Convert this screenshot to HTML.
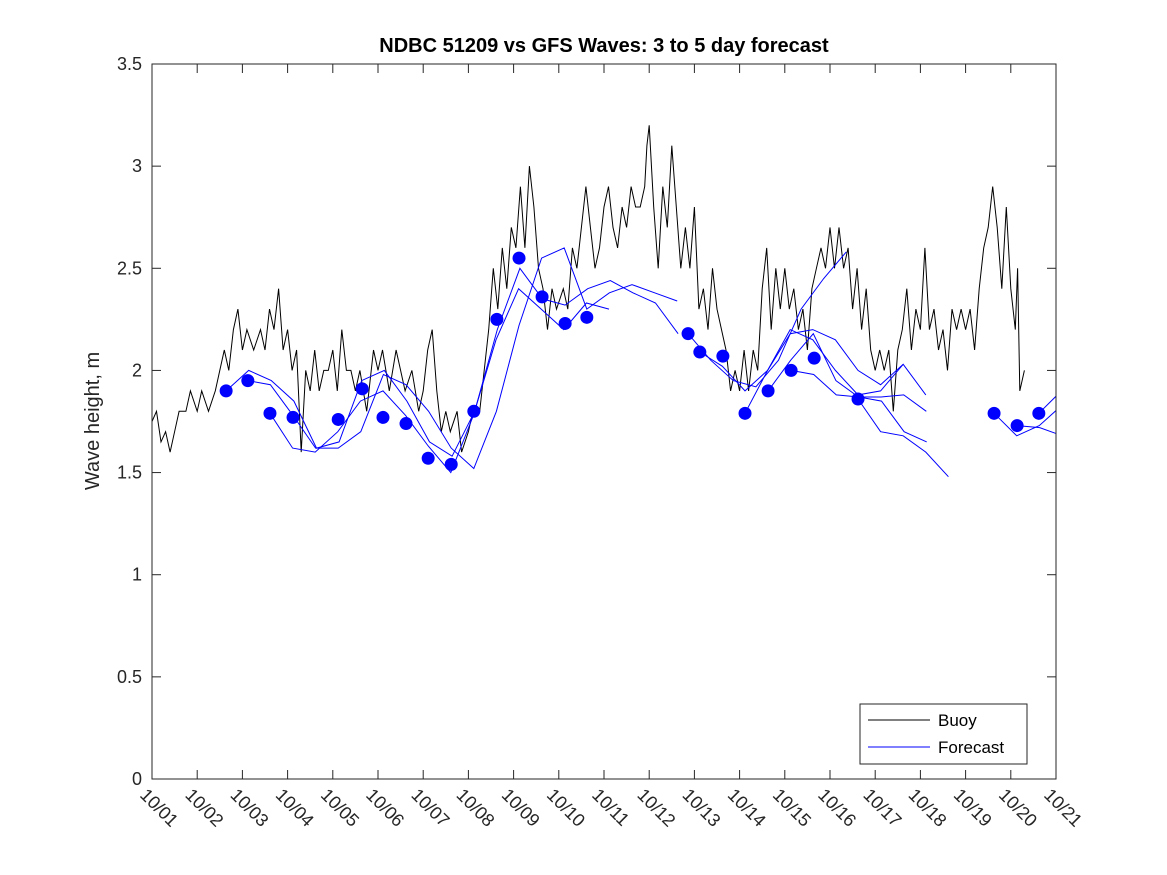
<!DOCTYPE html>
<html><head><meta charset="utf-8"><style>
html,body{margin:0;padding:0;background:#fff;}
svg{display:block;font-family:"Liberation Sans","DejaVu Sans",sans-serif;}
</style></head><body>
<svg id="chart" width="1167" height="875" viewBox="0 0 1167 875">
<defs><clipPath id="clipPlot"><rect x="152" y="64" width="904" height="715"/></clipPath></defs>
<rect x="0" y="0" width="1167" height="875" fill="#fff"/>
<text x="604" y="52" text-anchor="middle" font-size="20" font-weight="bold" fill="#000">NDBC 51209 vs GFS Waves: 3 to 5 day forecast</text>
<text transform="translate(99,421) rotate(-90)" text-anchor="middle" font-size="20" fill="#262626">Wave height, m</text>
<g id="plot" clip-path="url(#clipPlot)"></g>
<g id="axes"></g>
<g>
<rect x="860" y="704" width="167" height="60" fill="#fff" stroke="#262626" stroke-width="1"/>
<line x1="868" y1="720" x2="930" y2="720" stroke="#000" stroke-width="1"/>
<text x="938" y="726" font-size="17" fill="#000">Buoy</text>
<line x1="868" y1="747" x2="930" y2="747" stroke="#0000ff" stroke-width="1"/>
<text x="938" y="753" font-size="17" fill="#000">Forecast</text>
</g>
</svg>
<script>
const xTickLabels=["10/01","10/02","10/03","10/04","10/05","10/06","10/07","10/08","10/09","10/10","10/11","10/12","10/13","10/14","10/15","10/16","10/17","10/18","10/19","10/20","10/21"];
const yTicks=[0,0.5,1,1.5,2,2.5,3,3.5];
const yTickLabels=["0","0.5","1","1.5","2","2.5","3","3.5"];
const buoyDays=[0,0.1,0.2,0.3,0.4,0.5,0.6,0.75,0.85,1.0,1.1,1.25,1.4,1.5,1.6,1.7,1.8,1.9,2.0,2.1,2.25,2.4,2.5,2.6,2.7,2.8,2.9,3.0,3.1,3.2,3.3,3.4,3.5,3.6,3.7,3.8,3.9,4.0,4.1,4.2,4.3,4.4,4.5,4.6,4.75,4.9,5.0,5.1,5.25,5.4,5.5,5.6,5.75,5.9,6.0,6.1,6.2,6.3,6.4,6.5,6.6,6.75,6.85,7.0,7.1,7.25,7.35,7.45,7.55,7.65,7.75,7.85,7.95,8.05,8.15,8.25,8.35,8.45,8.55,8.65,8.75,8.85,8.95,9.1,9.2,9.3,9.4,9.5,9.6,9.7,9.8,9.9,10.0,10.1,10.2,10.3,10.4,10.5,10.6,10.7,10.8,10.9,10.95,11.0,11.1,11.2,11.3,11.4,11.5,11.6,11.7,11.8,11.9,12.0,12.1,12.2,12.3,12.4,12.5,12.6,12.7,12.8,12.9,13.0,13.1,13.2,13.3,13.4,13.5,13.6,13.7,13.8,13.9,14.0,14.1,14.2,14.3,14.4,14.5,14.6,14.7,14.8,14.9,15.0,15.1,15.2,15.3,15.4,15.5,15.6,15.7,15.8,15.9,16.0,16.1,16.2,16.3,16.4,16.5,16.6,16.7,16.8,16.9,17.0,17.1,17.2,17.3,17.4,17.5,17.6,17.7,17.8,17.9,18.0,18.1,18.2,18.3,18.4,18.5,18.6,18.7,18.8,18.9,19.0,19.1,19.15,19.2,19.3];
const buoyValues=[1.75,1.8,1.65,1.7,1.6,1.7,1.8,1.8,1.9,1.8,1.9,1.8,1.9,2.0,2.1,2.0,2.2,2.3,2.1,2.2,2.1,2.2,2.1,2.3,2.2,2.4,2.1,2.2,2.0,2.1,1.6,2.0,1.9,2.1,1.9,2.0,2.0,2.1,1.9,2.2,2.0,2.0,1.9,2.0,1.8,2.1,2.0,2.1,1.9,2.1,2.0,1.9,2.0,1.8,1.9,2.1,2.2,1.9,1.7,1.8,1.7,1.8,1.6,1.7,1.8,1.8,2.0,2.2,2.5,2.3,2.6,2.4,2.7,2.6,2.9,2.6,3.0,2.8,2.5,2.4,2.2,2.4,2.3,2.4,2.3,2.6,2.5,2.7,2.9,2.7,2.5,2.6,2.8,2.9,2.7,2.6,2.8,2.7,2.9,2.8,2.8,2.9,3.1,3.2,2.8,2.5,2.9,2.7,3.1,2.8,2.5,2.7,2.5,2.8,2.3,2.4,2.2,2.5,2.3,2.2,2.1,1.9,2.0,1.9,2.1,1.9,2.1,2.0,2.4,2.6,2.2,2.5,2.3,2.5,2.3,2.4,2.2,2.3,2.1,2.4,2.5,2.6,2.5,2.7,2.5,2.7,2.5,2.6,2.3,2.5,2.2,2.4,2.1,2.0,2.1,2.0,2.1,1.8,2.1,2.2,2.4,2.1,2.3,2.2,2.6,2.2,2.3,2.1,2.2,2.0,2.3,2.2,2.3,2.2,2.3,2.1,2.4,2.6,2.7,2.9,2.7,2.4,2.8,2.4,2.2,2.5,1.9,2.0];
const forecastStarts=[1.64,2.12,2.61,11.86,12.12,13.12,13.63,14.14,15.62,18.63,19.14,19.62];
const forecastStep=0.5;
const forecastValues=[
[1.90,2.00,1.95,1.85,1.62,1.65,1.95,2.0,1.85,1.65,1.58,1.80,2.20,2.50,2.35,2.32,2.40,2.44,2.38,2.33,2.18],
[1.95,1.93,1.78,1.62,1.62,1.70,1.98,1.93,1.80,1.62,1.52,1.80,2.22,2.55,2.60,2.30,2.38,2.42,2.38,2.34],
[1.79,1.62,1.60,1.70,1.85,1.90,1.78,1.63,1.50,1.78,2.15,2.40,2.30,2.20,2.33,2.30],
[2.18,2.05,1.95,1.92,2.05,2.30,2.45,2.58],
[2.09,2.02,1.90,2.00,2.18,2.20,2.15,2.00,1.93,2.03],
[1.79,2.00,2.20,2.15,2.00,1.88,1.90,2.03,1.88],
[1.90,2.05,2.18,1.95,1.87,1.87,1.88,1.80],
[2.00,1.98,1.88,1.87,1.85,1.70,1.65],
[1.86,1.70,1.68,1.60,1.48],
[1.79,1.68,1.73,1.83,1.96],
[1.73,1.72,1.68,1.83],
[1.79,1.90]];
const dotDays=[1.64,2.12,2.61,3.12,4.12,4.65,5.11,5.62,6.11,6.62,7.12,7.63,8.12,8.63,9.14,9.62,11.86,12.12,12.63,13.12,13.63,14.14,14.65,15.62,18.63,19.14,19.62];
const dotValues=[1.9,1.95,1.79,1.77,1.76,1.91,1.77,1.74,1.57,1.54,1.80,2.25,2.55,2.36,2.23,2.26,2.18,2.09,2.07,1.79,1.90,2.00,2.06,1.86,1.79,1.73,1.79];

const L=152,R=1056,T=64,B=779;
const xs=d=>L+(R-L)*d/20;
const ys=v=>B-(B-T)*v/3.5;
const NS="http://www.w3.org/2000/svg";
function mk(tag,attrs,parent){const e=document.createElementNS(NS,tag);for(const k in attrs)e.setAttribute(k,attrs[k]);parent.appendChild(e);return e;}
const plot=document.getElementById('plot'), axes=document.getElementById('axes');

let d="";buoyValues.forEach((v,i)=>{d+=(i?"L":"M")+xs(buoyDays[i]).toFixed(1)+","+ys(v).toFixed(1);});
const bl=mk('path',{d:d,fill:'none',stroke:'#000','stroke-width':1},plot);



forecastValues.forEach((arr,j)=>{let p="";arr.forEach((v,i)=>{p+=(i?"L":"M")+xs(forecastStarts[j]+i*forecastStep).toFixed(1)+","+ys(v).toFixed(1);});
const fl=mk('path',{d:p,fill:'none',stroke:'#0000ff','stroke-width':1},plot);

});

dotDays.forEach((dd,i)=>{const c=mk('circle',{cx:xs(dd),cy:ys(dotValues[i]),r:6.5,fill:'#0000ff'},plot);

});

const fr=mk('rect',{x:L,y:T,width:R-L,height:B-T,fill:'none',stroke:'#262626','stroke-width':1},axes);


xTickLabels.forEach((lab,i)=>{const x=xs(i);
mk('line',{x1:x,y1:B,x2:x,y2:B-9,stroke:'#262626'},axes);
mk('line',{x1:x,y1:T,x2:x,y2:T+9,stroke:'#262626'},axes);
const t=mk('text',{transform:`translate(${x-13},${B+17}) rotate(45)`,'font-size':18,fill:'#262626'},axes);
t.textContent=lab;

});
yTicks.forEach((v,i)=>{const y=ys(v);
mk('line',{x1:L,y1:y,x2:L+9,y2:y,stroke:'#262626'},axes);
mk('line',{x1:R,y1:y,x2:R-9,y2:y,stroke:'#262626'},axes);
const t=mk('text',{x:L-10,y:y+6,'text-anchor':'end','font-size':18,fill:'#262626'},axes);
t.textContent=yTickLabels[i];

});
</script>
</body></html>
